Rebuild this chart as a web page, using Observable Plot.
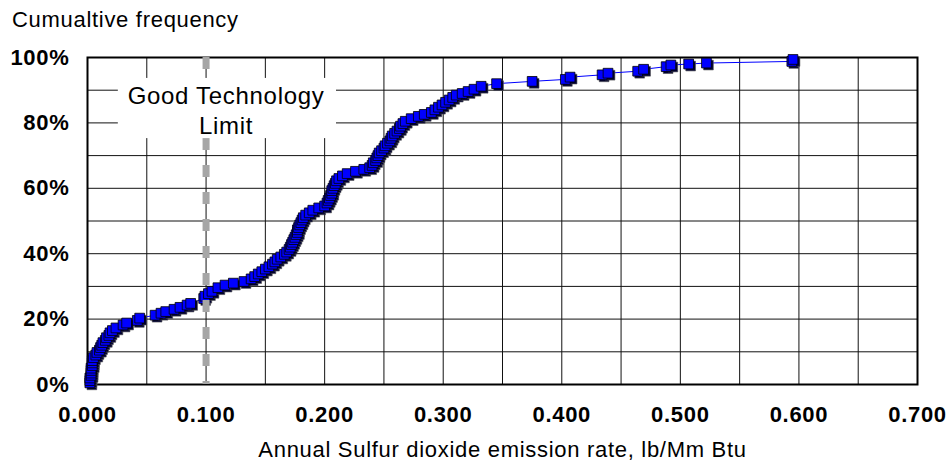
<!DOCTYPE html>
<html>
<head>
<meta charset="utf-8">
<script src="https://cdn.jsdelivr.net/npm/d3@7"></script>
<script src="https://cdn.jsdelivr.net/npm/@observablehq/plot@0.6"></script>
<style>
  body { margin: 0; background: #fff; }
  #wrap { position: relative; width: 951px; height: 465px; font-family: "Liberation Sans", Arial, sans-serif; }
  #title { position: absolute; left: 12px; top: 9px; font-size: 22px; line-height: 22px; letter-spacing: 0.7px; color: #000; }
</style>
</head>
<body>
<div id="wrap">
  <div id="title">Cumualtive frequency</div>
</div>
<script>
// emission rate (lb/Mm Btu) and cumulative frequency (%)
const emissionRate = [
  0.002,0.002,0.002,0.003,0.003,0.003,0.003,0.004,0.004,0.004,
  0.005,0.007,0.008,0.010,0.011,0.012,0.013,0.015,0.016,0.018,
  0.019,0.021,0.024,0.030,0.033,0.042,0.044,0.057,0.062,0.066,
  0.073,0.078,0.084,0.087,0.098,0.099,0.102,0.105,0.110,0.116,
  0.123,0.132,0.138,0.141,0.144,0.147,0.150,0.153,0.156,0.158,
  0.160,0.163,0.166,0.168,0.170,0.171,0.172,0.173,0.174,0.175,
  0.176,0.177,0.177,0.178,0.179,0.180,0.181,0.182,0.184,0.187,
  0.190,0.195,0.200,0.202,0.203,0.204,0.205,0.206,0.206,0.207,
  0.208,0.209,0.210,0.212,0.215,0.219,0.226,0.233,0.238,0.240,
  0.241,0.243,0.244,0.245,0.246,0.248,0.250,0.251,0.253,0.255,
  0.256,0.257,0.259,0.261,0.263,0.264,0.266,0.268,0.273,0.279,
  0.284,0.290,0.293,0.296,0.299,0.302,0.305,0.308,0.311,0.316,
  0.321,0.326,0.332,0.345,0.375,0.403,0.407,0.434,0.439,0.464,
  0.469,0.488,0.492,0.507,0.522,0.594,0.595
];
const cumulativePct = [
  0.5,1.2,2.0,2.8,3.5,4.3,5.0,5.8,6.6,7.3,
  8.2,9.0,9.8,10.5,11.3,12.0,12.8,13.5,14.3,15.0,
  15.8,16.5,17.3,18.2,18.8,19.6,20.3,21.2,21.8,22.3,
  23.0,23.6,24.3,24.8,26.3,27.0,27.8,28.5,29.6,30.4,
  31.0,31.5,32.3,33.0,33.8,34.5,35.3,36.0,36.8,37.5,
  38.3,39.0,39.8,40.5,41.3,42.0,42.8,43.5,44.3,45.0,
  45.8,46.5,47.3,48.0,48.8,49.5,50.3,51.0,51.8,52.5,
  53.3,54.0,54.6,55.5,56.3,57.0,57.8,58.5,59.3,60.0,
  60.8,61.5,62.3,63.0,63.8,64.5,65.2,65.8,66.3,67.0,
  67.8,68.5,69.3,70.0,70.8,71.5,72.3,73.0,73.8,74.5,
  75.3,76.0,76.8,77.5,78.3,79.0,79.8,80.5,81.3,82.0,
  82.6,83.2,84.0,84.8,85.5,86.3,87.0,87.8,88.5,89.0,
  89.6,90.3,91.2,92.0,92.7,93.3,94.0,94.7,95.2,95.8,
  96.4,97.2,97.7,98.0,98.3,98.8,99.4
];
const xTicks = [0, 0.1, 0.2, 0.3, 0.4, 0.5, 0.6, 0.7];
const xGrid = [0, 0.05, 0.1, 0.15, 0.2, 0.25, 0.3, 0.35, 0.4, 0.45, 0.5, 0.55, 0.6, 0.65, 0.7];
const yTicks = [0, 20, 40, 60, 80, 100];
const yGrid = [0, 10, 20, 30, 40, 50, 60, 70, 80, 90, 100];
const goodTechLimit = [0.1];
const limitLabel = ["Good Technology\nLimit"];
const labelBox = [{x1: 0.026, x2: 0.210, y1: 75.2, y2: 93.6}];
const xLabel = "Annual Sulfur dioxide emission rate, lb/Mm Btu";

const data = emissionRate.map((x, i) => ({x, y: cumulativePct[i]}));
const font = "'Liberation Sans', Arial, sans-serif";

const chart = Plot.plot({
  width: 951,
  height: 465,
  marginLeft: 87,
  marginRight: 34,
  marginTop: 57,
  marginBottom: 81,
  style: {fontFamily: font, background: "transparent", overflow: "visible"},
  x: {domain: [0, 0.7]},
  y: {domain: [0, 100]},
  marks: [
    Plot.ruleX(xGrid, {stroke: "#111", strokeWidth: 1}),
    Plot.ruleY(yGrid, {stroke: "#111", strokeWidth: 1}),
    Plot.frame({stroke: "#000", strokeWidth: 2}),
    Plot.line(data, {x: "x", y: "y", stroke: "#0000ff", strokeWidth: 1}),
    Plot.dot(data, {x: "x", y: "y", symbol: "square", r: 5.5, fill: "#000033", stroke: "#555", strokeWidth: 0.6, dx: 2, dy: 2}),
    Plot.dot(data, {x: "x", y: "y", symbol: "square", r: 5.5, fill: "#0000ff", stroke: "#000", strokeWidth: 0.8}),
    Plot.ruleX(goodTechLimit, {x: d => d, stroke: "#a6a6a6", strokeWidth: 7, strokeDasharray: "12,15"}),
    Plot.rect(labelBox, {x1: "x1", x2: "x2", y1: "y1", y2: "y2", fill: "#fff"}),
    Plot.text(limitLabel, {x: goodTechLimit[0], frameAnchor: "top", dx: 20, dy: 25, text: d => d, lineAnchor: "top", lineHeight: 1.25, fontSize: 24, fill: "#000", fontFamily: font}),
    Plot.axisX(xTicks, {tickSize: 0, tickPadding: 22, tickFormat: d => d.toFixed(3), fontSize: 22, fontWeight: "bold", fill: "#000", label: null}),
    Plot.axisY(yTicks, {tickSize: 0, tickPadding: 18, tickFormat: d => d + "%", fontSize: 22, fontWeight: "bold", fill: "#000", label: null}),
    Plot.text([xLabel], {frameAnchor: "bottom", dy: 65, text: d => d, lineAnchor: "middle", fontSize: 22, fill: "#000"})
  ]
});
chart.style.position = "absolute";
chart.style.left = "0px";
chart.style.top = "0px";
document.getElementById("wrap").appendChild(chart);
chart.querySelectorAll("text").forEach(t => t.style.letterSpacing = "0.7px");
</script>
</body>
</html>
